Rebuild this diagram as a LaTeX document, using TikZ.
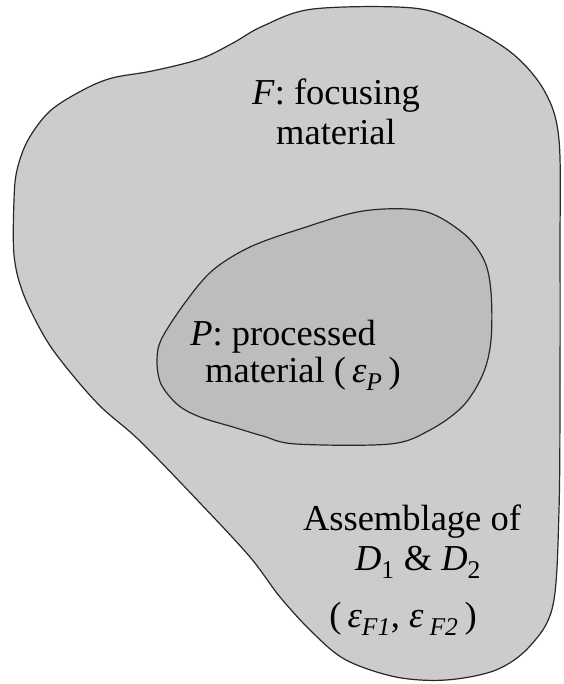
\documentclass[tikz,border=0pt]{standalone}
\usepackage{fontspec}
\setmainfont{Liberation Serif}
\definecolor{outerfill}{RGB}{204,204,204}
\definecolor{innerfill}{RGB}{189,189,189}
\definecolor{edge}{RGB}{40,40,40}
\tikzset{
  region/.style={draw=edge, line width=1.2pt, line join=round},
  lbl/.style={anchor=base, inner sep=0pt, font=\fontsize{36.5}{40}\selectfont, text=black},
}
\begin{document}
\begin{tikzpicture}[x=1pt,y=-1pt]
\useasboundingbox (0,0) rectangle (563,684);
% outer region F
\draw[region, fill=outerfill] plot[smooth cycle, tension=0.55] coordinates {
  (313,9) (413,8) (463,24) (513,54) (545,92) (559,140) (560,250) (560,380)
  (559,510) (553,605) (530,646) (496,670) (446,680) (396,677) (346,660)
  (313,633) (280,597) (250,557) (200,503) (140,441) (100,406) (66,367)
  (44,336) (23,293) (14,255) (14,200) (17,170) (28,140) (50,111) (83,90)
  (112,78) (152,71) (200,59) (233,43) (263,26)};
% inner region P
\draw[region, fill=innerfill] plot[smooth cycle, tension=0.55] coordinates {
  (300,229) (363,211) (423,211) (463,233) (484,260) (491,292) (491,340)
  (483,374) (463,406) (430,430) (390,444) (296,444) (263,436) (233,427)
  (200,417) (178,405) (161,384) (157,360) (162,338) (187,300) (213,270)
  (250,247)};
% labels
\node[lbl] (f1) at (336,105) {\textit{F}: focusing};
\node[lbl] (f2) at (336,145) {material};
\node[lbl] (p1) at (283,345) {\textit{P}: processed};
\node[lbl] (p2) at (303,382) {material (\,\textit{ε}\textsubscript{\textit{P}}\,)};
\node[lbl] (a1) at (412,530) {Assemblage of};
\node[lbl] (a2) at (418,570) {\textit{D}\textsubscript{1} \& \textit{D}\textsubscript{2}};
\node[lbl] (a3) at (403,627) {(\,\textit{ε}\textsubscript{\textit{F1}}, \textit{ε}\,\textsubscript{\textit{F2}}\,)};
\end{tikzpicture}
\end{document}
